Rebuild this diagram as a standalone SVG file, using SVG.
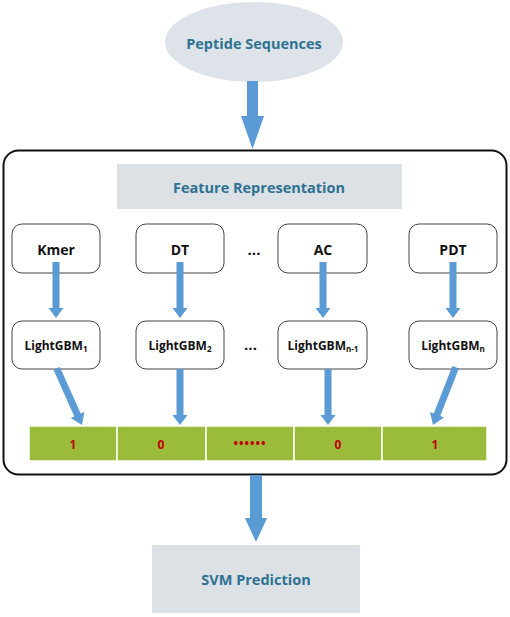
<svg xmlns="http://www.w3.org/2000/svg" width="510" height="617" viewBox="0 0 510 617">
<style>
.teal{font-family:"Open Sans","Noto Sans",sans-serif;font-weight:700;fill:#2f7191;text-anchor:middle;dominant-baseline:central}
.blk{font-family:"Open Sans","Noto Sans",sans-serif;font-weight:700;fill:#111;text-anchor:middle;dominant-baseline:central}
.node{fill:#fff;stroke:#444;stroke-width:1}
.arr{fill:#5b9bd5}
.cell{fill:#9bbb3b;stroke:#fff;stroke-width:1.5}
.val{font-family:"Open Sans","Noto Sans",sans-serif;font-weight:700;fill:#c00000;font-size:12px;text-anchor:middle;dominant-baseline:central}
</style>
<defs>
<polygon id="sa" points="0,0 -7.5,-10 -3.5,-10 -3.5,-56 3.5,-56 3.5,-10 7.5,-10"/>
<polygon id="sa2" points="0,0 -7.5,-11 -3.5,-11 -3.5,-62 3.5,-62 3.5,-11 7.5,-11"/>
</defs>
<rect x="0" y="0" width="510" height="617" fill="#fff"/>

<g id="peptide">
<ellipse cx="254" cy="42" rx="89" ry="40" fill="#dde3e8"/>
<text class="teal" x="254" y="43" font-size="14.5">Peptide Sequences</text>
</g>

<g id="container">
<rect x="3.5" y="150.5" width="503" height="324" rx="15" fill="none" stroke="#111" stroke-width="2"/>
</g>

<g id="feature">
<rect x="117" y="164" width="285" height="45" fill="#dbe1e5"/>
<text class="teal" x="259" y="187" font-size="14.5">Feature Representation</text>
</g>

<g id="kmer"><rect class="node" x="12" y="224" width="88" height="49" rx="10"/><text class="blk" x="56" y="249" font-size="14">Kmer</text></g>
<g id="dt"><rect class="node" x="136" y="224" width="88" height="49" rx="10"/><text class="blk" x="180" y="249" font-size="14">DT</text></g>
<g id="dots1"><text class="blk" x="254" y="249" font-size="15">...</text></g>
<g id="ac"><rect class="node" x="278" y="224" width="89" height="49" rx="10"/><text class="blk" x="323" y="249" font-size="14">AC</text></g>
<g id="pdt"><rect class="node" x="409" y="224" width="88" height="49" rx="10"/><text class="blk" x="453" y="249" font-size="14">PDT</text></g>

<g id="lgbm1"><rect class="node" x="12" y="321" width="88" height="48" rx="10"/><text class="blk" x="56" y="345" font-size="12" font-weight="600">LightGBM<tspan font-size="8" dy="3">1</tspan></text></g>
<g id="lgbm2"><rect class="node" x="136" y="321" width="88" height="48" rx="10"/><text class="blk" x="180" y="345" font-size="12" font-weight="600">LightGBM<tspan font-size="8" dy="3">2</tspan></text></g>
<g id="dots2"><text class="blk" x="250.5" y="344" font-size="15">...</text></g>
<g id="lgbmn1"><rect class="node" x="278" y="321" width="89" height="48" rx="10"/><text class="blk" x="323" y="345" font-size="12" font-weight="600">LightGBM<tspan font-size="8" dy="3">n-1</tspan></text></g>
<g id="lgbmn"><rect class="node" x="409" y="321" width="88" height="48" rx="10"/><text class="blk" x="453" y="345" font-size="12" font-weight="600">LightGBM<tspan font-size="8" dy="3">n</tspan></text></g>

<g id="vector">
<rect class="cell" x="29" y="426" width="88" height="35"/>
<rect class="cell" x="117" y="426" width="89" height="35"/>
<rect class="cell" x="206" y="426" width="88" height="35"/>
<rect class="cell" x="294" y="426" width="88" height="35"/>
<rect class="cell" x="382" y="426" width="105" height="35"/>
<text class="val" x="73" y="444">1</text>
<text class="val" x="161" y="444">0</text>
<text class="val" x="250" y="443" font-size="13" letter-spacing="1">••••••</text>
<text class="val" x="338" y="444">0</text>
<text class="val" x="435" y="444">1</text>
</g>

<g id="svm">
<rect x="152" y="545" width="208" height="68" fill="#dbe1e5"/>
<text class="teal" x="256" y="579" font-size="14.5">SVM Prediction</text>
</g>

<g id="connectors">
<polygon class="arr" points="247,81 258,81 258,116 264,116 252.5,149 241,116 247,116"/>
<polygon class="arr" points="250,475 262,475 262,518 267,518 256,542 245,518 250,518"/>
<use href="#sa" class="arr" x="56" y="318"/>
<use href="#sa" class="arr" x="180" y="318"/>
<use href="#sa" class="arr" x="323" y="318"/>
<use href="#sa" class="arr" x="453" y="318"/>
<use href="#sa2" class="arr" transform="translate(82,425) rotate(-24.1)"/>
<use href="#sa" class="arr" x="180" y="425"/>
<use href="#sa" class="arr" x="328" y="425"/>
<use href="#sa2" class="arr" transform="translate(433,425) rotate(21.4)"/>
</g>
</svg>
